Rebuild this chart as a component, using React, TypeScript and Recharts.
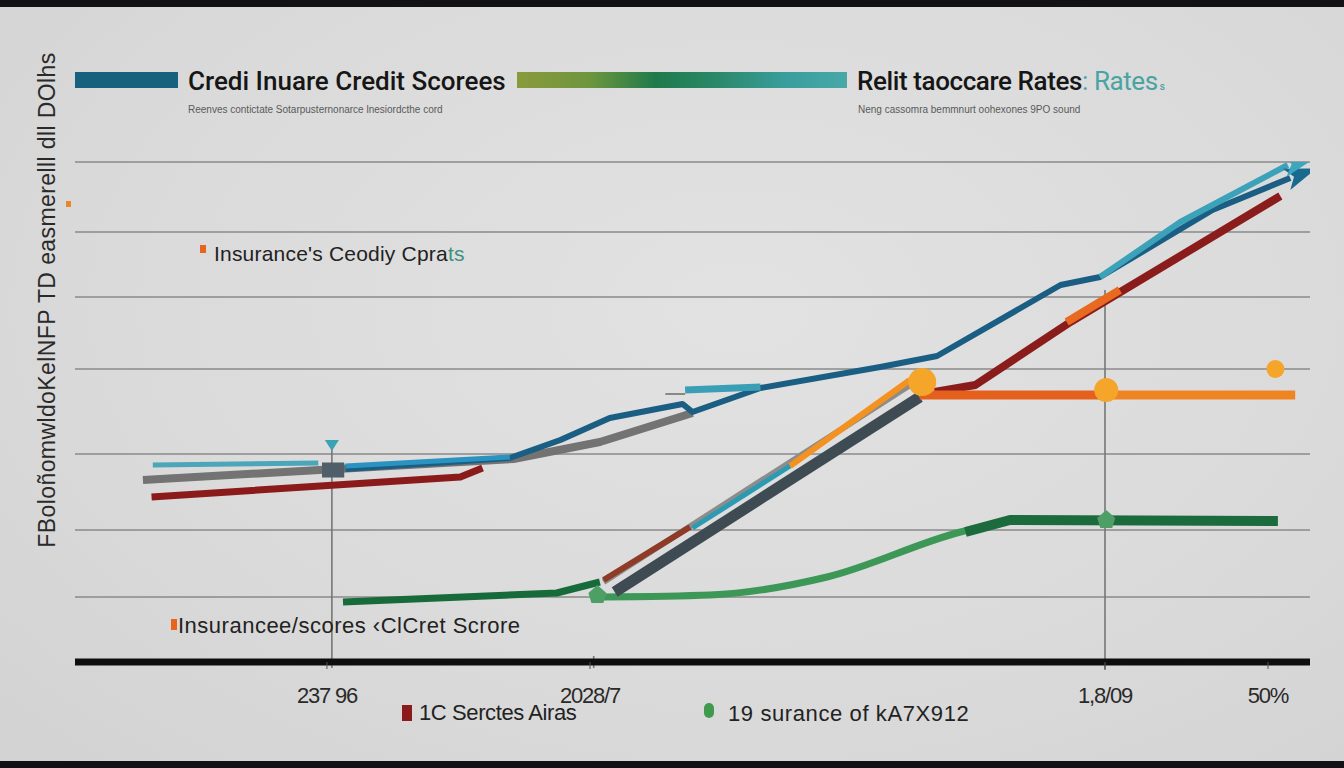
import { ComposedChart, Line, Scatter, XAxis, YAxis, ReferenceLine } from 'recharts';

type Pt = [number, number];

// horizontal guide levels and bottom axis
const gridLevels = [100, 86, 73, 58.6, 41.6, 26.4, 13];
const tickValues = [20.4, 41.7, 83.4, 96.6];
const tickLabels = ['237 96', '2028/7', '1,8/09', '50%'];

// series (x: 0-100 across the plot, y: 0-100 up the plot)
const tealStub: Pt[] = [[6.3, 39.4], [19.7, 39.8]];
const greyLine: Pt[] = [[5.5, 36.4], [19.8, 38.4], [35.5, 40.6], [42.5, 44.0], [50.0, 49.8]];
const slateBlock: Pt[] = [[20.0, 38.4], [21.8, 38.4]];
const lightBlue: Pt[] = [[21.9, 39.2], [35.2, 41.0]];
const blueMain: Pt[] = [
  [21.9, 38.6], [35.2, 40.8], [39.3, 44.4], [43.3, 48.8], [49.2, 51.6], [50.0, 50.0],
  [55.5, 54.8], [65.2, 59.0], [69.8, 61.2], [79.8, 75.4], [83.0, 77.0], [92.1, 90.4], [98.4, 96.8],
];
const tealStep: Pt[] = [[49.4, 54.4], [55.5, 55.0]];
const thinGrey: Pt[] = [[47.8, 53.6], [49.4, 53.6]];
const tealUpper: Pt[] = [[83.0, 77.0], [89.5, 88.0], [98.2, 99.4]];
const redLower: Pt[] = [[6.2, 33.0], [31.2, 37.0], [33.0, 38.8]];
const slateRise: Pt[] = [[43.7, 14.0], [68.4, 53.0]];
const greyRise: Pt[] = [[42.8, 16.0], [68.0, 56.0]];
const brownRise: Pt[] = [[42.8, 16.4], [49.8, 27.0]];
const tealRise: Pt[] = [[50.0, 26.8], [57.9, 39.2]];
const orangeRise: Pt[] = [[57.9, 39.2], [67.6, 56.4]];
const redUpper: Pt[] = [[69.6, 54.0], [72.9, 55.4], [80.6, 68.0], [97.6, 93.2]];
const orangeBit: Pt[] = [[80.3, 68.0], [84.6, 74.4]];
const orangeFlatLeft: Pt[] = [[68.4, 53.4], [83.5, 53.4]];
const orangeFlatRight: Pt[] = [[83.5, 53.4], [98.8, 53.4]];
const greenLow: Pt[] = [[21.7, 12.0], [39.0, 13.8], [42.5, 16.0]];
const greenCurve: Pt[] = [[42.8, 13.0], [51.4, 13.4], [60.9, 17.0], [71.7, 26.0], [74.1, 27.4]];
const greenFlat: Pt[] = [[72.1, 26.0], [75.7, 28.4], [97.4, 28.2]];
const orangeDots: Pt[] = [[68.6, 56.0], [83.5, 54.4], [97.2, 58.6]];
const greenDots: Pt[] = [[42.3, 13.4], [83.5, 28.4]];
const markerTop: Pt[] = [[20.8, 43.2]];

// vertical guides: x, top, bottom
const vGuides: [number, number, number][] = [
  [20.8, 43.2, -1.2],
  [42.0, 1.2, -1.2],
  [83.4, 74.4, -1.6],
];

const orangeDotRadii = [14, 12, 9];

const rows = (pts: Pt[]) => pts.map(([x, y]) => ({ x, y }));

const titleFont = "Roboto, 'Liberation Sans', Arial, sans-serif";
const font = "'Liberation Sans', Arial, sans-serif";

function arrowDot(color: string, count: number, angle: number, size = 28) {
  return (p: any) => {
    if (p.index !== count - 1) return <g key={`d-${p.index}`} />;
    return (
      <g key={`arrow-${p.index}`} transform={`translate(${p.cx},${p.cy}) rotate(${angle})`}>
        <polygon points={`${size},0 -4,${-size * 0.4} 4,0 -4,${size * 0.4}`} fill={color} />
      </g>
    );
  };
}

function seg(pts: Pt[], color: string, width: number, extra: any = {}) {
  return (
    <Line
      data={rows(pts)}
      dataKey="y"
      type="linear"
      stroke={color}
      strokeWidth={width}
      dot={false}
      activeDot={false}
      strokeLinejoin="round"
      isAnimationActive={false}
      {...extra}
    />
  );
}

const abs = (s: any) => ({ position: 'absolute' as const, ...s });

export default function App() {
  return (
    <div
      style={{
        position: 'absolute',
        left: 0,
        top: 0,
        width: 1344,
        height: 768,
        overflow: 'hidden',
        background: 'radial-gradient(ellipse at 55% 40%, #e2e2e2 0%, #dadada 60%, #d2d2d2 100%)',
        fontFamily: font,
      }}
    >
      <div style={abs({ left: 0, top: 0, width: 1344, height: 7, background: '#121216' })} />
      <div style={abs({ left: 0, top: 761, width: 1344, height: 7, background: '#121216' })} />

      <div style={abs({ left: 0, top: 0 })}>
        <ComposedChart width={1344} height={768} margin={{ top: 162, right: 34, bottom: 66, left: 75 }}>
          <XAxis
            type="number"
            dataKey="x"
            domain={[0, 100]}
            ticks={tickValues}
            tickFormatter={(v: number) => tickLabels[tickValues.indexOf(v)] ?? ''}
            height={40}
            axisLine={{ stroke: '#0e0e0e', strokeWidth: 7 }}
            tickLine={{ stroke: '#555' }}
            tickSize={7}
            tickMargin={18}
            tick={{ fontSize: 22, fill: '#2a2a2a', fontFamily: font, letterSpacing: -1.2 }}
            allowDataOverflow
          />
          <YAxis type="number" dataKey="y" domain={[0, 100]} hide allowDataOverflow />
          {gridLevels.map((v) => (
            <ReferenceLine key={`g-${v}`} y={v} stroke="#8a8a8a" strokeWidth={1.6} ifOverflow="visible" />
          ))}
          {vGuides.map(([x, top, bottom]) => (
            <ReferenceLine
              key={`v-${x}`}
              segment={[{ x, y: top }, { x, y: bottom }]}
              stroke="#777"
              strokeWidth={1.6}
              ifOverflow="visible"
            />
          ))}

          {seg(greenLow, '#176b3a', 7)}
          {seg(greenCurve, '#3d9858', 7, { type: 'monotone' })}
          {seg(greenFlat, '#1c6b3c', 10)}

          {seg(redLower, '#8b1a1a', 7)}
          {seg(greyLine, '#737373', 8)}
          {seg(slateBlock, '#4f5e68', 15)}
          {seg(tealStub, '#4aa6b8', 5)}
          {seg(blueMain, '#1a5e83', 6, { dot: arrowDot('#1a6a90', blueMain.length, -20) })}
          {seg(lightBlue, '#2b93c2', 5)}
          {seg(thinGrey, '#888', 2)}
          {seg(tealStep, '#3a9fb6', 7)}
          {seg(tealUpper, '#3ca2ba', 6, { dot: arrowDot('#3ca6bc', tealUpper.length, -14) })}

          {seg(slateRise, '#3f4b53', 11)}
          {seg(greyRise, '#8c8c8c', 6)}
          {seg(brownRise, '#8e3b28', 6)}
          {seg(tealRise, '#2a9bb2', 5)}
          {seg(orangeRise, '#f39220', 6)}
          {seg(redUpper, '#8b1c1c', 8)}
          {seg(orangeBit, '#e86a20', 8)}
          {seg(orangeFlatLeft, '#e4601c', 9)}
          {seg(orangeFlatRight, '#ef8422', 9)}

          <Scatter
            data={rows(orangeDots)}
            dataKey="y"
            isAnimationActive={false}
            shape={(p: any) => (
              <circle cx={p.cx} cy={p.cy} r={orangeDotRadii[p.index] ?? 10} fill="#f5a52a" />
            )}
          />
          <Scatter
            data={rows(greenDots)}
            dataKey="y"
            isAnimationActive={false}
            shape={(p: any) => (
              <path
                d={`M${p.cx},${p.cy - 10} L${p.cx + 9},${p.cy - 2} L${p.cx + 6},${p.cy + 8} L${p.cx - 6},${p.cy + 8} L${p.cx - 9},${p.cy - 2} Z`}
                fill="#4e9f66"
              />
            )}
          />
          <Scatter
            data={rows(markerTop)}
            dataKey="y"
            isAnimationActive={false}
            shape={(p: any) => (
              <path d={`M${p.cx - 7},${p.cy - 6} L${p.cx + 7},${p.cy - 6} L${p.cx},${p.cy + 5} Z`} fill="#3aa3b3" />
            )}
          />
        </ComposedChart>
      </div>

      {/* header */}
      <div style={abs({ left: 75, top: 72, width: 103, height: 16, background: '#17607e' })} />
      <div style={abs({ left: 188, top: 66, fontFamily: titleFont, fontSize: 26, fontWeight: 500, color: '#161616', whiteSpace: 'nowrap' })}>
        Credi Inuare Credit Scorees
      </div>
      <div
        style={abs({
          left: 517,
          top: 72,
          width: 330,
          height: 16,
          background: 'linear-gradient(90deg, #8a9a3c 0%, #6e963e 22%, #1f7a4a 42%, #2b8a6c 62%, #3a9e9e 82%, #48a8a8 100%)',
        })}
      />
      <div style={abs({ left: 857, top: 66, fontFamily: titleFont, fontSize: 26, fontWeight: 500, color: '#161616', whiteSpace: 'nowrap', letterSpacing: -0.4 })}>
        Relit taoccare Rates<span style={{ color: '#4aa3a3', fontWeight: 400 }}>: Rates</span>
        <span style={{ color: '#4aa3a3', fontSize: 10 }}> s</span>
      </div>
      <div style={abs({ left: 188, top: 104, fontSize: 10, color: '#5a5a5a', whiteSpace: 'nowrap' })}>
        Reenves contictate Sotarpusternonarce lnesiordcthe cord
      </div>
      <div style={abs({ left: 858, top: 104, fontSize: 10, color: '#5a5a5a', whiteSpace: 'nowrap' })}>
        Neng cassomra bemmnurt oohexones 9PO sound
      </div>

      {/* vertical label */}
      <div
        style={abs({
          left: 47,
          top: 300,
          fontSize: 23,
          color: '#2a2a2a',
          whiteSpace: 'nowrap',
          transform: 'translate(-50%, -50%) rotate(-90deg)',
          letterSpacing: 0.4,
        })}
      >
        FBoloñomwldoKelNFP TD easmerelll dll DOlhs
      </div>
      <div style={abs({ left: 66, top: 201, width: 5, height: 6, background: '#e8862a' })} />

      {/* in-plot labels */}
      <div style={abs({ left: 200, top: 245, width: 6, height: 8, background: '#e8641e' })} />
      <div style={abs({ left: 214, top: 242, fontSize: 21, color: '#222', whiteSpace: 'nowrap', letterSpacing: 0.2 })}>
        Insurance's Ceodiy Cpra<span style={{ color: '#3d8f80' }}>ts</span>
      </div>
      <div style={abs({ left: 171, top: 619, width: 6, height: 11, background: '#e8641e' })} />
      <div style={abs({ left: 178, top: 613, fontSize: 22, color: '#222', whiteSpace: 'nowrap', letterSpacing: 0.5 })}>
        Insurancee/scores ‹ClCret Scrore
      </div>

      {/* bottom legend */}
      <div style={abs({ left: 402, top: 705, width: 10, height: 16, background: '#8b1a1a' })} />
      <div style={abs({ left: 419, top: 700, fontSize: 22, color: '#222', whiteSpace: 'nowrap', letterSpacing: -0.4 })}>
        1C Serctes Airas
      </div>
      <div style={abs({ left: 704, top: 703, width: 10, height: 15, borderRadius: 6, background: '#3f9a4e' })} />
      <div style={abs({ left: 728, top: 701, fontSize: 22, color: '#222', whiteSpace: 'nowrap', letterSpacing: 0.6 })}>
        19 surance of kA7X912
      </div>
    </div>
  );
}
